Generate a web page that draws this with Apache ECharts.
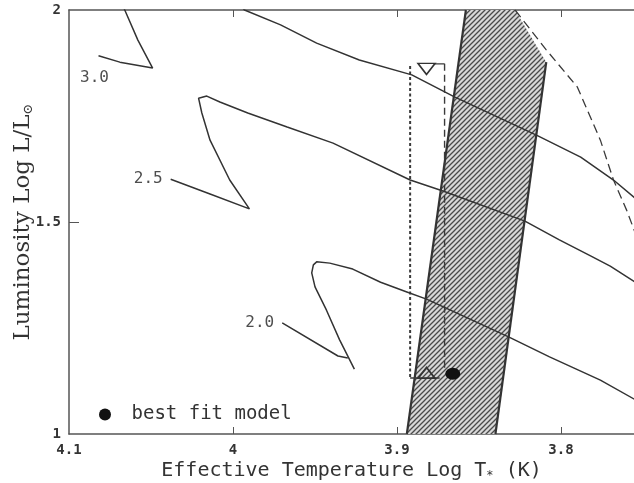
<!DOCTYPE html>
<html>
<head>
<meta charset="utf-8">
<script src="https://cdn.jsdelivr.net/npm/echarts@6/dist/echarts.min.js"></script>
<style>
  html, body { margin: 0; padding: 0; background: #fff; }
  #chart { width: 634px; height: 483px; }
</style>
</head>
<body>
<div id="chart"></div>
<script>
// ---- data: [log Teff, log L/Lsun] ----
// 3.0 Msun track (two visible pieces; the loop above log L = 2 is cut off)
const track30a = [[4.082, 1.892], [4.069, 1.877], [4.049, 1.863], [4.058, 1.929], [4.066, 2.0], [4.068, 2.02]];
const track30b = [[3.996, 2.014], [3.993, 2.0], [3.971, 1.965], [3.949, 1.922], [3.923, 1.882], [3.891, 1.847],
                  [3.865, 1.795], [3.815, 1.705], [3.788, 1.653], [3.768, 1.599], [3.752, 1.547]];
// 2.5 Msun track
const track25 = [[4.038, 1.601], [4.014, 1.566], [3.990, 1.531], [4.002, 1.599], [4.014, 1.693], [4.019, 1.757],
                 [4.021, 1.792], [4.016, 1.797], [4.008, 1.783], [3.991, 1.757], [3.967, 1.724], [3.939, 1.686],
                 [3.892, 1.599], [3.872, 1.573], [3.822, 1.502], [3.801, 1.458], [3.782, 1.420], [3.770, 1.396],
                 [3.752, 1.351]];
// 2.0 Msun track
const track20a = [[3.970, 1.262], [3.936, 1.184], [3.930, 1.179]];
const track20b = [[3.926, 1.153], [3.935, 1.222], [3.943, 1.292], [3.950, 1.347], [3.952, 1.380], [3.951, 1.399],
                  [3.949, 1.406], [3.941, 1.403], [3.927, 1.389], [3.910, 1.358], [3.894, 1.335], [3.882, 1.318],
                  [3.832, 1.229], [3.807, 1.182], [3.776, 1.127], [3.752, 1.075]];
const massLabels = ['3.0', '2.5', '2.0'];

// instability strip
const stripBlueEdge = [[3.894, 1.0], [3.858, 2.0]];
const stripRedEdge = [[3.840, 1.0], [3.809, 1.877]];
const stripTop = [[3.828, 2.0]];

// dashed boundary curve
const dashedCurve = [[3.828, 2.0], [3.809, 1.906], [3.790, 1.818], [3.776, 1.693], [3.768, 1.599],
                     [3.760, 1.528], [3.752, 1.446]];

// temperature / luminosity limits of the model box
const boxTeffLow = 3.892, boxTeffHigh = 3.871;
const boxLumTop = 1.873, boxLumBottom = 1.132;
const triangleDown = [[3.882, 1.861]];
const triangleUp = [[3.882, 1.144]];
const bestFit = [[3.866, 1.142]];

// axis ticks
const xTickLabels = [4.1, 4.0, 3.9, 3.8];
const xTicks = [4.0, 3.9, 3.8];
const yTickLabels = [1, 1.5, 2];
const yTicks = [1.5];

// ---- drawing ----
function hatchPattern() {
  const c = document.createElement('canvas');
  c.width = 5; c.height = 5;
  const g = c.getContext('2d');
  g.fillStyle = '#d8d8d8';
  g.fillRect(0, 0, 5, 5);
  g.strokeStyle = '#4a4a4a';
  g.lineWidth = 1.3;
  g.beginPath();
  g.moveTo(0, 5); g.lineTo(5, 0);
  g.moveTo(-1, 1); g.lineTo(1, -1);
  g.moveTo(4, 6); g.lineTo(6, 4);
  g.stroke();
  return c;
}
const hatch = hatchPattern();
const stripPolygon = [stripBlueEdge[0], stripRedEdge[0], stripRedEdge[1], stripTop[0], stripBlueEdge[1]];

const mono = 'DejaVu Sans Mono';
const ink = '#333';

function trackSeries(data) {
  return {
    type: 'line', data: data, showSymbol: false, symbol: 'none', silent: true,
    lineStyle: { color: ink, width: 1.5 }, z: 4
  };
}
function plainLine(data, type, width) {
  return {
    type: 'line', data: data, showSymbol: false, symbol: 'none', silent: true,
    lineStyle: { color: '#3a3a3a', width: width, type: type }, z: 3
  };
}

const option = {
  animation: false,
  backgroundColor: '#fff',
  grid: { left: 69, right: 0, top: 10, bottom: 49, containLabel: false, outerBoundsMode: 'none' },
  legend: {
    data: ['best fit model'],
    left: 94, top: 400,
    itemWidth: 15, itemHeight: 12,
    textStyle: { fontFamily: mono, fontSize: 19, color: '#333', padding: [0, 0, 0, 14] }
  },
  xAxis: [{
    type: 'value', inverse: true, min: 3.7555, max: 4.1, position: 'bottom',
    splitLine: { show: false },
    axisLine: { show: true, lineStyle: { color: '#555', width: 1.5 } },
    axisTick: { show: true, inside: true, length: 7, customValues: xTicks, lineStyle: { color: '#555' } },
    axisLabel: {
      customValues: xTickLabels, margin: 9,
      formatter: v => (Math.abs(v - 4) < 1e-9 ? '4' : v.toFixed(1)),
      fontFamily: mono, fontWeight: 'bold', fontSize: 14, color: '#333'
    },
    name: 'Effective Temperature Log T{sub|*} (K)',
    nameLocation: 'middle', nameGap: 26, nameMoveOverlap: false,
    nameTextStyle: {
      fontFamily: mono, fontSize: 20, color: '#333',
      rich: { sub: { fontFamily: mono, fontSize: 12, color: '#333', padding: [10, 0, 0, 0] } }
    }
  }, {
    type: 'value', inverse: true, min: 3.7555, max: 4.1, position: 'top',
    splitLine: { show: false },
    axisLine: { show: true, lineStyle: { color: '#555', width: 1.5 } },
    axisTick: { show: true, inside: true, length: 7, customValues: xTicks, lineStyle: { color: '#555' } },
    axisLabel: { show: false }
  }],
  yAxis: [{
    type: 'value', min: 1, max: 2,
    splitLine: { show: false },
    axisLine: { show: true, lineStyle: { color: '#555', width: 1.5 } },
    axisTick: { show: true, inside: true, length: 10, customValues: yTicks, lineStyle: { color: '#555' } },
    axisLabel: {
      customValues: yTickLabels, margin: 8,
      fontFamily: mono, fontWeight: 'bold', fontSize: 14, color: '#333'
    },
    name: 'Luminosity Log L/L{sub|⊙}',
    nameLocation: 'middle', nameGap: 34, nameMoveOverlap: false,
    nameTextStyle: {
      fontFamily: 'DejaVu Serif', fontSize: 23, color: '#333',
      rich: { sub: { fontFamily: 'DejaVu Serif', fontSize: 13, color: '#333', padding: [10, 0, 0, 0] } }
    }
  }],
  series: [
    {
      // hatched instability strip
      type: 'custom', silent: true, z: 1, clip: true,
      data: [0],
      renderItem: function (params, api) {
        const pts = stripPolygon.map(p => api.coord(p));
        return {
          type: 'polygon',
          shape: { points: pts },
          style: { fill: { image: hatch, repeat: 'repeat' }, stroke: null }
        };
      }
    },
    {
      type: 'line', data: stripBlueEdge, showSymbol: false, symbol: 'none', silent: true,
      lineStyle: { color: '#333', width: 2.2 }, z: 2
    },
    {
      type: 'line', data: stripRedEdge, showSymbol: false, symbol: 'none', silent: true,
      lineStyle: { color: '#333', width: 2.2 }, z: 2
    },
    plainLine(dashedCurve, [9, 5], 1.3),
    trackSeries(track30a),
    trackSeries(track30b),
    trackSeries(track25),
    trackSeries(track20a),
    trackSeries(track20b),
    // model box
    plainLine([[boxTeffLow, boxLumTop - 0.005], [boxTeffLow, boxLumBottom]], [3, 2.5], 2),
    plainLine([[boxTeffHigh, boxLumTop], [boxTeffHigh, boxLumBottom + 0.02]], [7, 4], 1.4),
    plainLine([[3.877, boxLumTop], [boxTeffHigh, boxLumTop]], 'solid', 1.4),
    plainLine([[boxTeffLow, boxLumBottom], [3.874, boxLumBottom]], 'solid', 1.4),
    {
      type: 'scatter', data: triangleDown, symbol: 'triangle', symbolRotate: 180, symbolSize: [17, 11],
      itemStyle: { color: '#fff', borderColor: '#333', borderWidth: 1.6, opacity: 1 }, silent: true, z: 6
    },
    {
      type: 'scatter', data: triangleUp, symbol: 'triangle', symbolSize: [17, 11],
      itemStyle: { color: 'rgba(255,255,255,0)', borderColor: '#333', borderWidth: 1.6, opacity: 1 }, silent: true, z: 6
    },
    {
      name: 'best fit model',
      type: 'scatter', data: bestFit, symbol: 'circle', symbolSize: [15, 12],
      itemStyle: { color: '#111', opacity: 1 }, silent: true, z: 7
    },
    {
      // mass labels at the start of each track
      type: 'scatter', symbolSize: 0, silent: true, z: 8,
      data: [
        { value: track30a[0], label: { position: 'bottom', distance: 14, offset: [-4, 0] } },
        { value: track25[0], label: { position: 'left', distance: 8 } },
        { value: track20a[0], label: { position: 'left', distance: 8 } }
      ],
      label: {
        show: true,
        formatter: p => massLabels[p.dataIndex],
        fontFamily: mono, fontSize: 16, color: '#222'
      }
    }
  ]
};

const chart = echarts.init(document.getElementById('chart'), null, { renderer: 'canvas' });
chart.setOption(option);
</script>
</body>
</html>
